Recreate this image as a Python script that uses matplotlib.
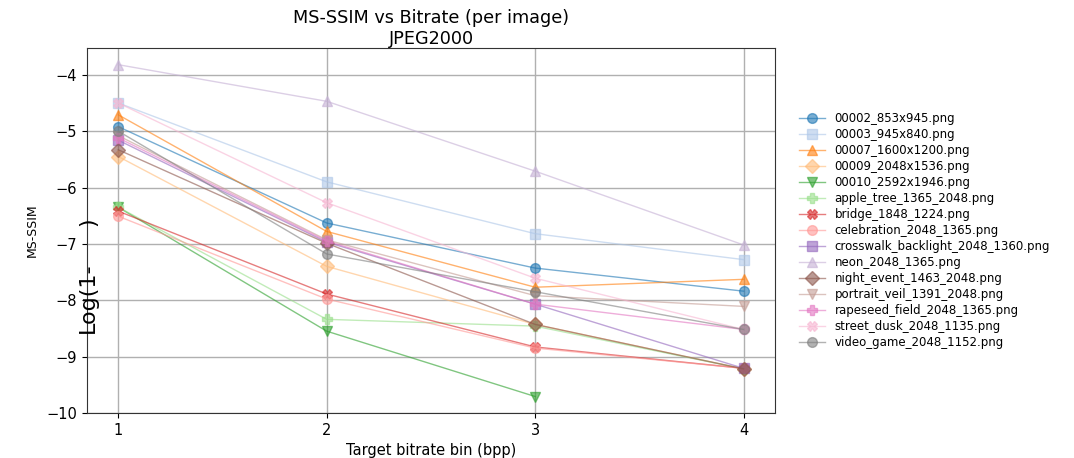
import matplotlib
matplotlib.use("Agg")
import matplotlib.pyplot as plt
import numpy as np

# log(1 - MS-SSIM) per image at each target bitrate bin
bins = [1, 2, 3, 4]

images = [
    "00002_853x945.png",
    "00003_945x840.png",
    "00007_1600x1200.png",
    "00009_2048x1536.png",
    "00010_2592x1946.png",
    "apple_tree_1365_2048.png",
    "bridge_1848_1224.png",
    "celebration_2048_1365.png",
    "crosswalk_backlight_2048_1360.png",
    "neon_2048_1365.png",
    "night_event_1463_2048.png",
    "portrait_veil_1391_2048.png",
    "rapeseed_field_2048_1365.png",
    "street_dusk_2048_1135.png",
    "video_game_2048_1152.png",
]

img_00002 = [-4.92, -6.63, -7.43, -7.84]
img_00003 = [-4.50, -5.90, -6.82, -7.28]
img_00007 = [-4.71, -6.78, -7.77, -7.63]
img_00009 = [-5.45, -7.40, -8.43, -9.22]
img_00010 = [-6.35, -8.55, -9.71]
apple_tree = [-6.35, -8.34, -8.46, -9.22]
bridge = [-6.42, -7.89, -8.83, -9.21]
celebration = [-6.51, -7.98, -8.85, -9.21]
crosswalk = [-5.16, -6.97, -8.07, -9.21]
neon = [-3.82, -4.47, -5.71, -7.02]
night_event = [-5.33, -6.99, -8.43, -9.22]
portrait_veil = [-5.08, -6.93, -7.92, -8.11]
rapeseed = [-5.12, -6.95, -8.07, -8.52]
street_dusk = [-4.50, -6.27, -7.61, -8.52]
video_game = [-5.00, -7.18, -7.85, -8.52]

series = [img_00002, img_00003, img_00007, img_00009, img_00010, apple_tree,
          bridge, celebration, crosswalk, neon, night_event, portrait_veil,
          rapeseed, street_dusk, video_game]

markers = ["o", "s", "^", "D", "v", "P", "X"]
colors = plt.get_cmap("tab20").colors

fig = plt.figure(figsize=(10.74, 4.58), dpi=100)
ax = fig.add_axes([0.081, 0.098, 0.6405, 0.797])

for i, (name, vals) in enumerate(zip(images, series)):
    ax.plot(bins[:len(vals)], vals, marker=markers[i % len(markers)],
            color=colors[i % 20], alpha=0.6, linewidth=1, markersize=7,
            label=name)

ax.set_xticks(bins)
ax.tick_params(labelsize=10.5)
ax.set_xlabel("Target bitrate bin (bpp)", fontsize=10.5)
ax.set_ylabel("MS-SSIM", fontsize=9)
ax.yaxis.set_label_coords(-0.07, 0.5)
ax.set_title("MS-SSIM vs Bitrate (per image)\nJPEG2000", fontsize=12.7, pad=2)
ax.grid(True, color="#b0b0b0", linewidth=1)
for s in ax.spines.values():
    s.set_color("#333333")

# broken pieces of the log label sitting on the axis edge
fig.text(0.082, 0.349, "Log(1-", rotation=90, fontsize=16, ha="center", va="center")
fig.text(0.082, 0.515, ")", rotation=90, fontsize=16, ha="center", va="center")

ax.legend(loc="center left", bbox_to_anchor=(1.02, 0.5), frameon=False,
          fontsize=8.5, handlelength=2.2, labelspacing=0.25)

fig.savefig("out.png", dpi=100)
